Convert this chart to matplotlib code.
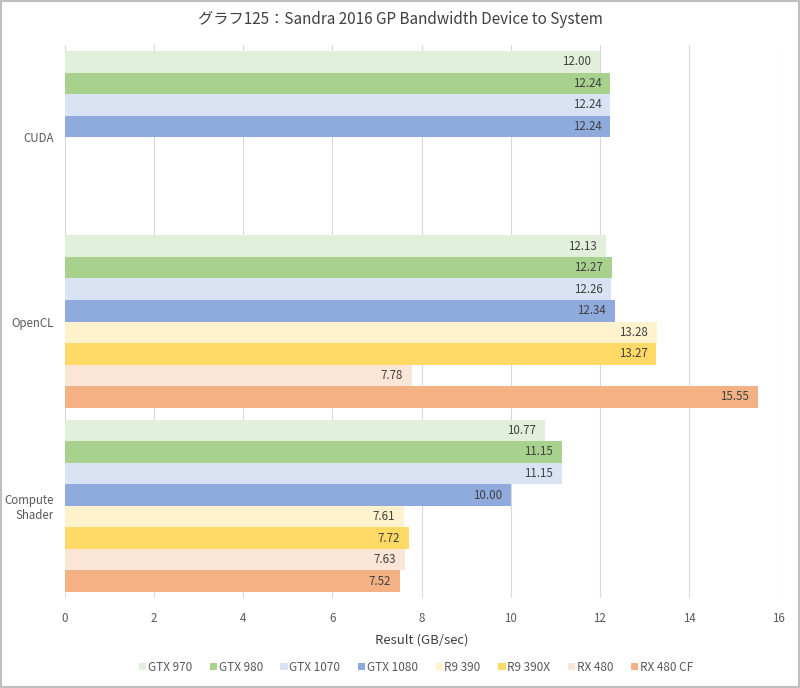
import matplotlib
matplotlib.use("Agg")
import matplotlib.pyplot as plt
import numpy as np

plt.rcParams['font.family'] = ['Noto Sans CJK JP', 'DejaVu Sans']

categories = ["CUDA", "OpenCL", "Compute\nShader"]
series = ["GTX 970", "GTX 980", "GTX 1070", "GTX 1080", "R9 390", "R9 390X", "RX 480", "RX 480 CF"]
values = {
    "GTX 970":   [12.00, 12.13, 10.77],
    "GTX 980":   [12.24, 12.27, 11.15],
    "GTX 1070":  [12.24, 12.26, 11.15],
    "GTX 1080":  [12.24, 12.34, 10.00],
    "R9 390":    [None, 13.28, 7.61],
    "R9 390X":   [None, 13.27, 7.72],
    "RX 480":    [None, 7.78, 7.63],
    "RX 480 CF": [None, 15.55, 7.52],
}
colors = ["#E2EFDA", "#A9D18E", "#DAE3F3", "#8FAADC", "#FFF2CC", "#FFD966", "#FBE5D6", "#F4B183"]
xticks = [0, 2, 4, 6, 8, 10, 12, 14, 16]

fig = plt.figure(figsize=(8, 6.88), dpi=100)
ax = fig.add_axes([0.08125, 0.1308, 0.8913, 0.8038])

n = len(series)
group = 0.935
h = group / n
for j, s in enumerate(series):
    for i, v in enumerate(values[s]):
        if v is None:
            continue
        y = i + (j - (n - 1) / 2) * h
        ax.barh(y, v, height=h, color=colors[j], label=s if i == 1 else None)
        ax.text(v - 0.2, y, f"{v:.2f}", ha="right", va="center", fontsize=8.3, color="#404040")

ax.set_ylim(len(categories) - 0.5, -0.5)
ax.set_xlim(0, 16)
ax.set_xticks(xticks)
ax.set_yticks(range(len(categories)))
ax.set_yticklabels(categories, fontsize=8.3, color="#595959")
ax.tick_params(axis="x", labelsize=8.3, colors="#595959", length=0, pad=10)
ax.tick_params(axis="y", length=0, pad=8)
ax.grid(axis="x", color="#D9D9D9", linewidth=0.8)
ax.set_axisbelow(True)
for sp in ax.spines.values():
    sp.set_visible(False)

ax.set_xlabel("Result (GB/sec)", fontsize=9.5, color="#404040", labelpad=6)
fig.text(0.5, 0.972, "グラフ125：Sandra 2016 GP Bandwidth Device to System", ha="center", va="center",
         fontsize=11, color="#404040")

handles, labels = ax.get_legend_handles_labels()
order = [labels.index(s) for s in series]
leg = fig.legend([handles[k] for k in order], [labels[k] for k in order], loc="center",
                 bbox_to_anchor=(0.52, 0.03), ncol=8, frameon=False, fontsize=8.5,
                 handlelength=0.6, handleheight=0.6, handletextpad=0.15, columnspacing=1.5,
                 labelcolor="#595959")

fig.patches.append(plt.Rectangle((0.001, 0.001), 0.998, 0.998, transform=fig.transFigure,
                                 fill=False, edgecolor="#BFBFBF", linewidth=1.5))
fig.savefig("out.png", dpi=100)
